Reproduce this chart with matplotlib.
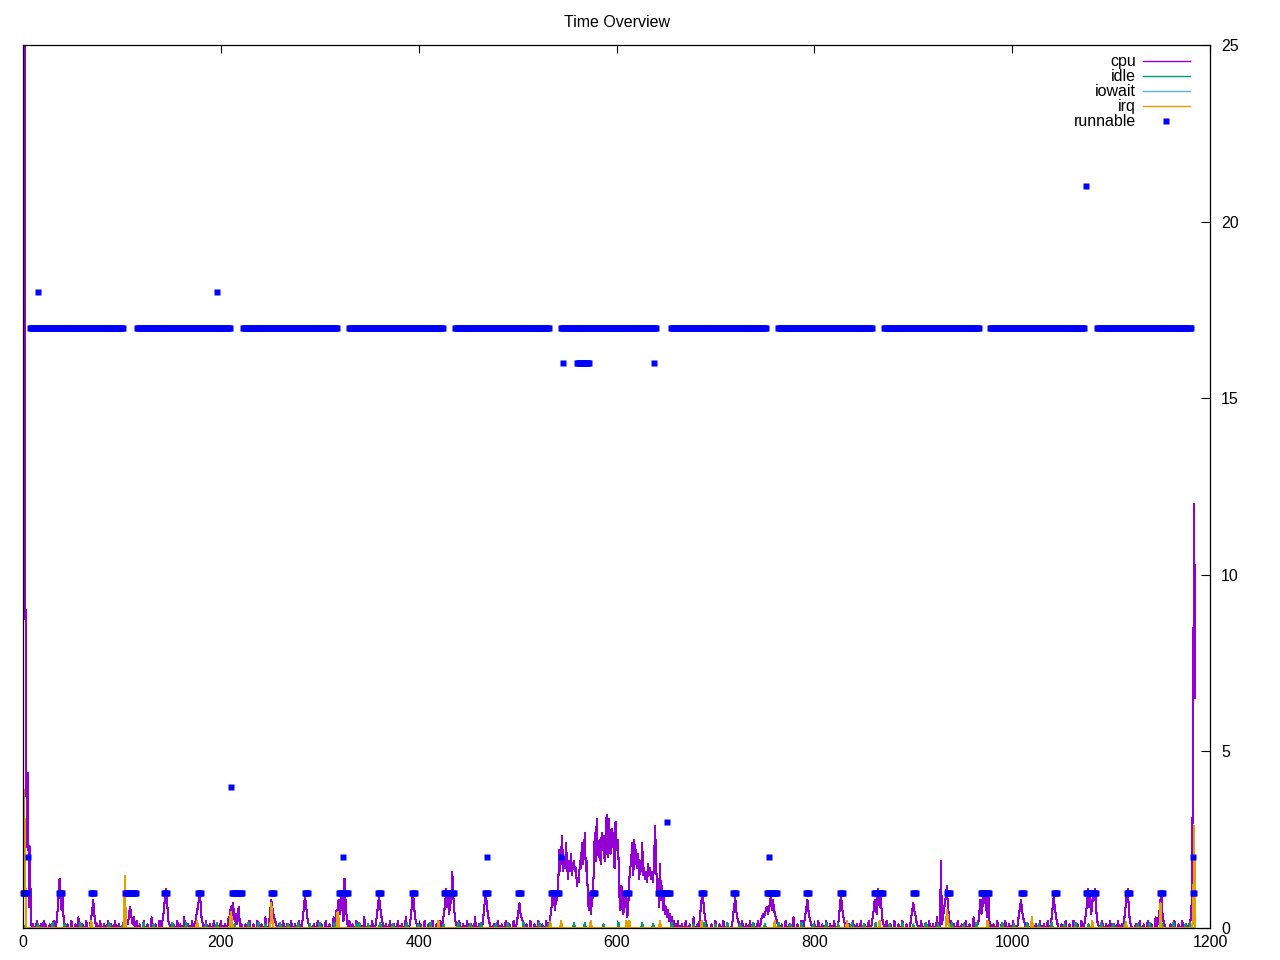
import numpy as np
import matplotlib
matplotlib.use("Agg")
import matplotlib.pyplot as plt

plt.rcParams['font.family'] = ['Liberation Sans', 'DejaVu Sans']

# ---------------- data ----------------
# cpu per second; codes: '0'-'9' -> 0.0-0.9, 'A'.. -> 1.0, 1.1, ...
cpu_head = [14.4, 40.0, 12.7, 5.5, 2.3, 4.4, 0.6, 2.3, 0.2]      # x = 0..8
cpu_tail = [1.4, 6.9, 12.0, 6.5]                                 # x = 1182..1185
cpu_starts = [9, 33, 45, 67, 78, 101, 118, 140, 151, 174, 185, 207, 224, 248,
              259, 281, 292, 315, 333, 356, 367, 390, 401, 424, 441, 464, 475,
              498, 509, 532, 546, 556, 566, 576, 586, 596, 606, 616, 626, 636,
              646, 656, 661, 683, 694, 716, 727, 746, 766, 789, 800, 823, 834,
              858, 873, 896, 907, 928, 941, 965, 980, 1005, 1016, 1038, 1049,
              1073, 1090, 1112, 1123, 1146, 1157]
cpu_codes = ["010002000100201000100020", "025AE8593100", "1000200010030001000200",
             "01358420100", "20001000200100020001000", "12111136521301200",
             "1000200010003000100020", "02479B62100", "01000200100030001000200",
             "13569A42100", "2000100020010002000100", "13263752412620100",
             "010002000100020001000300", "02586432100", "1000200010002000100020",
             "01369742100", "00100020001000200010003", "1253846952E8410200",
             "10002000100030001000200", "02479642100", "10002000100020001000300",
             "0136A842100", "01000200010002000100020", "1358B694A7G952100",
             "20001000200010003000100", "0258A642100", "01000200010002000100020",
             "01357432100", "10002000100020001000200", "1358A75A8BMGLQ",
             "GKHOIEJGLF", "IJGHCEDJHO", "ILRGJ95A47", "9GRJVNKPIR", "MQJOWKVPLS",
             "NRHUMPK95C", "84A6937EHK", "OFPIMHLEJG", "OFHEGDIFHE", "GDJTKAE6I8",
             "C594635241", "31201",
             "0200010002000100030001", "0258A742100", "0010002000100020001000",
             "01469532100", "2000100020001000200", "23434564579586432100",
             "01000200010003000100020", "02468532100", "10002000100020001000200",
             "01379642100", "010002000100020001000200", "135874B96A52100",
             "20001000200010002000100", "01357542100", "020001000200010003000",
             "J13579C641200", "100020001000200010003000", "125846A7953A210",
             "0100020001000200010002000", "02468532100", "1000200010002000100020",
             "01369642100", "010002000100020001000200", "1358B6947A8B52100",
             "0200010002000100020001", "0247AB52100", "00100020001000200010003",
             "01358942100", "0001000200010002000100123"]

idle_x = [0, 15, 30, 42, 58, 68, 87, 101, 122, 132, 151, 165, 185, 196, 214, 228,
          238, 245, 260, 268, 278, 290, 300, 315, 337, 340, 349, 361, 374, 388,
          400, 412, 425, 440, 452, 463, 478, 490, 506, 522, 531, 557, 568, 587,
          602, 626, 637, 656, 678, 689, 700, 712, 725, 738, 750, 764, 776, 787,
          799, 812, 824, 838, 850, 862, 876, 889, 900, 913, 925, 939, 951, 964,
          976, 990, 1002, 1015, 1027, 1040, 1053, 1064, 1077, 1090, 1102, 1114,
          1127, 1139, 1152, 1163, 1175, 1180]
idle_y = [0.15, 0.1, 0.15, 0.1, 0.15, 0.1, 0.15, 0.1, 0.15, 0.1, 0.15, 0.15, 0.1,
          0.15, 0.1, 0.15, 0.15, 0.1, 0.15, 0.1, 0.15, 0.1, 0.15, 0.15, 0.1, 0.15,
          0.1, 0.15, 0.1, 0.15, 0.1, 0.15, 0.1, 0.15, 0.1, 0.15, 0.1, 0.15, 0.15,
          0.15, 0.1, 0.15, 0.15, 0.1, 0.15, 0.15, 0.1, 0.15, 0.1, 0.15, 0.1, 0.15,
          0.1, 0.15, 0.1, 0.15, 0.1, 0.15, 0.1, 0.15, 0.1, 0.15, 0.1, 0.15, 0.1,
          0.15, 0.1, 0.15, 0.1, 0.15, 0.1, 0.15, 0.1, 0.15, 0.1, 0.15, 0.1, 0.15,
          0.1, 0.15, 0.1, 0.15, 0.1, 0.15, 0.1, 0.15, 0.1, 0.15, 0.1, 0.15]

irq_x = [1, 2, 69, 103, 176, 210, 211, 251, 252, 318, 319, 420, 533, 544, 574,
         610, 613, 644, 686, 760, 833, 866, 934, 935, 975, 1020, 1081, 1115, 1150,
         1183, 1184]
irq_y = [3.9, 2.3, 0.2, 1.47, 0.2, 0.45, 0.3, 0.7, 0.3, 0.45, 0.3, 0.2, 0.17, 0.2,
         0.2, 0.2, 0.2, 0.2, 0.2, 0.2, 0.2, 0.2, 0.5, 0.3, 0.2, 0.3, 0.2, 0.18, 0.7,
         0.37, 2.9]

# runnable: runs of equal value (value, first x, last x)
run_value = [17] * 11 + [1] * 34 + [16, 16, 16, 18, 18, 21, 4, 3, 2, 2, 2, 2, 2, 2]
run_start = [7, 115, 222, 330, 437, 544, 655, 763, 870, 978, 1086,
             0, 36, 69, 103, 143, 177, 211, 251, 285, 319, 359, 393, 426, 467,
             500, 534, 575, 609, 642, 685, 718, 752, 792, 826, 860, 900, 934,
             968, 1009, 1042, 1075, 1116, 1149, 1183,
             546, 560, 638, 15, 196, 1075, 210, 651, 5, 324, 469, 544, 754, 1183]
run_end = [101, 209, 317, 425, 532, 640, 751, 858, 966, 1073, 1181,
           4, 39, 72, 114, 146, 180, 221, 254, 288, 329, 362, 396, 436, 470,
           503, 542, 578, 613, 654, 688, 721, 762, 795, 829, 869, 903, 937,
           977, 1012, 1045, 1085, 1119, 1152, 1184,
           546, 572, 638, 15, 196, 1075, 210, 651, 5, 324, 469, 544, 754, 1183]

x_ticks = [0, 200, 400, 600, 800, 1000, 1200]
y_ticks = [0, 5, 10, 15, 20, 25]


# ---------------- build series ----------------
def decode(ch):
    if ch.isdigit():
        return int(ch) / 10.0
    return (ord(ch) - ord('A') + 10) / 10.0


n = 1186
cpu = np.zeros(n)
cpu[0:len(cpu_head)] = cpu_head
for s, code in zip(cpu_starts, cpu_codes):
    for i, ch in enumerate(code):
        cpu[s + i] = decode(ch)
cpu[n - len(cpu_tail):] = cpu_tail

idle = np.zeros(n)
idle[idle_x] = idle_y
iowait = np.zeros(n)
irq = np.zeros(n)
irq[irq_x] = irq_y

rx, ry = [], []
for v, a, b in zip(run_value, run_start, run_end):
    for xx in range(a, b + 1):
        rx.append(xx)
        ry.append(v)

t = np.arange(n)

# ---------------- plot ----------------
fig = plt.figure(figsize=(12.8, 9.6), dpi=100)
ax = fig.add_axes([23 / 1280, 1 - 928 / 960, (1210 - 23) / 1280, (928 - 45) / 960])

lw = 0.75
ax.plot(t, cpu, color='#9400D3', lw=lw, label='cpu', antialiased=False)
ax.plot(t, idle, color='#009E73', lw=lw, label='idle', antialiased=False)
ax.plot(t, iowait, color='#56B4E9', lw=lw, label='iowait', antialiased=False)
ax.plot(t, irq, color='#E69F00', lw=lw, label='irq', antialiased=False)
ax.plot(rx, ry, ls='none', marker='s', ms=5, color='#0000FF', mec='none',
        label='runnable', clip_on=False)

ax.set_xlim(0, 1200)
ax.set_ylim(0, 25)
ax.set_xticks(x_ticks)
ax.yaxis.tick_right()
ax.set_yticks(y_ticks)
ax.tick_params(axis='x', direction='in', top=True, bottom=True, length=6,
               width=0.8, labelsize=11.5, pad=5)
ax.tick_params(axis='y', direction='in', left=False, right=True, length=6.5,
               width=0.8, labelsize=11.5, pad=8)
for sp in ax.spines.values():
    sp.set_linewidth(0.9)
    sp.set_color('black')

ax.set_title('Time Overview', fontsize=11.5, pad=13)

leg = ax.legend(loc='upper right', bbox_to_anchor=(0.9832, 0.9893), markerfirst=False,
                frameon=False, fontsize=11.5, handlelength=2.95, handletextpad=0.45,
                labelspacing=0.0, borderaxespad=0, borderpad=0)
for h in leg.get_lines():
    h.set_antialiased(True)
    h.set_linewidth(1.0)

fig.savefig('out.png', dpi=100)
